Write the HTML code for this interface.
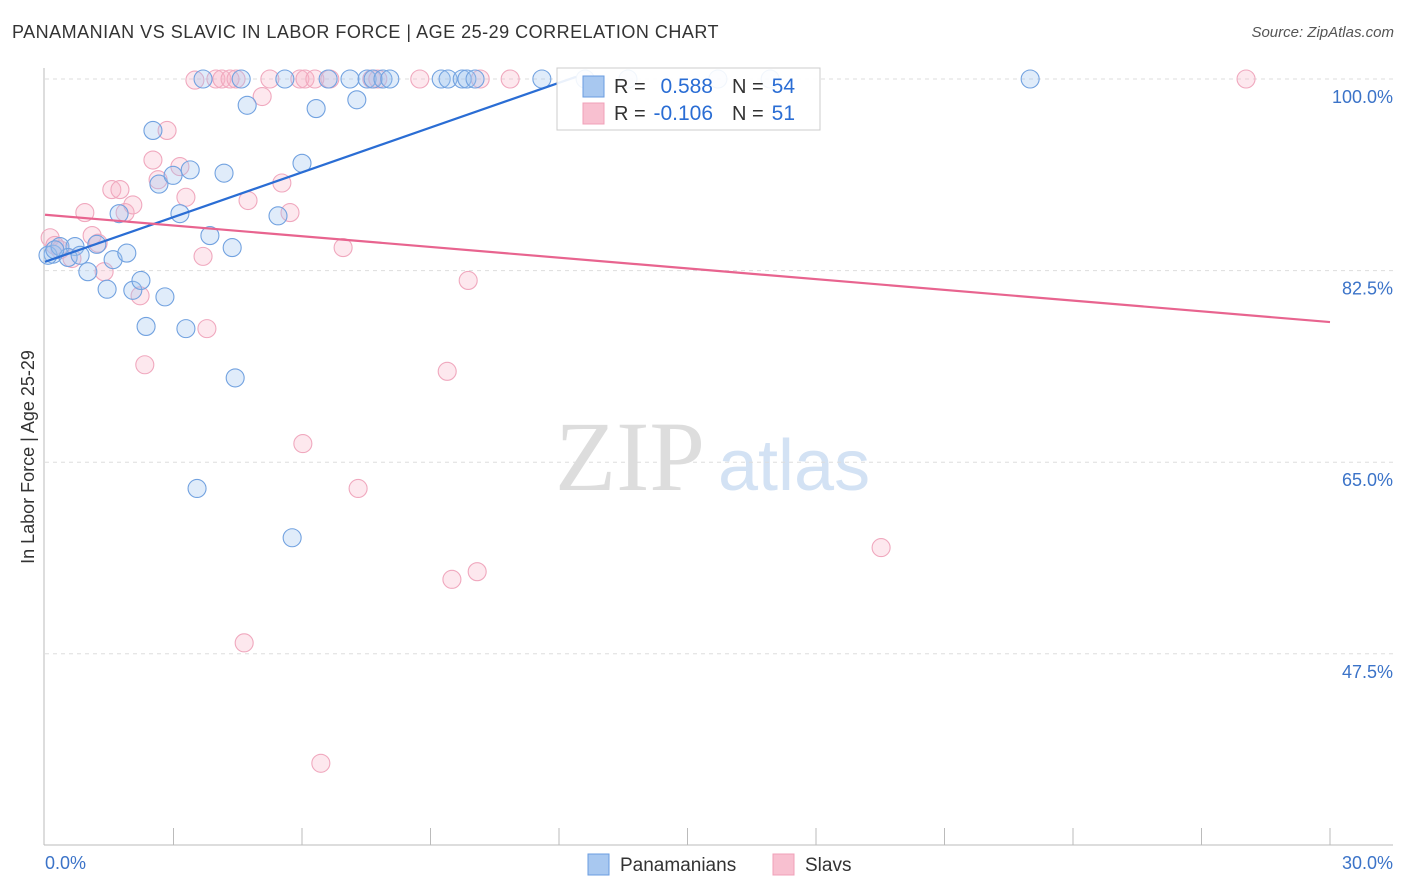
<!DOCTYPE html>
<html><head><meta charset="utf-8">
<style>
body{margin:0;background:#fff;font-family:"Liberation Sans",sans-serif;}
#wrap{position:relative;width:1406px;height:892px;overflow:hidden;}
.t{position:absolute;white-space:nowrap;}
</style></head><body>
<div id="wrap">
<div class="t" style="left:12px;top:22px;font-size:18px;letter-spacing:0.5px;color:#333;">PANAMANIAN VS SLAVIC IN LABOR FORCE | AGE 25-29 CORRELATION CHART</div>
<div class="t" style="right:12px;top:24px;font-size:15px;color:#555;font-style:italic;">Source: ZipAtlas.com</div>
<svg id="svg" width="1406" height="892" style="position:absolute;left:0;top:0"></svg>
</div>
<script>
const blueX=[0.19,0.07,0.35,0.70,0.54,0.82,1.0,1.21,1.45,1.59,1.73,1.91,2.05,2.24,2.36,2.52,2.66,2.80,2.99,3.15,3.29,3.39,3.55,3.69,3.85,4.18,4.37,4.44,4.58,4.72,5.44,5.60,5.77,6.0,6.33,6.61,7.12,7.28,7.52,7.66,7.89,8.05,9.25,9.41,9.74,9.85,10.04,11.6,12.61,13.61,15.71,16.93,23.0,0.23];
const blueY=[84.0,83.9,84.7,84.7,83.7,83.9,82.4,84.9,80.8,83.5,87.7,84.1,80.7,81.6,77.4,95.3,90.4,80.1,91.2,87.7,77.2,91.7,62.6,100,85.7,91.4,84.6,72.7,100,97.6,87.5,100,58.1,92.3,97.3,100,100,98.1,100,100,100,100,100,100,100,100,100,100,100,100,100,100,100,84.4];
const pinkX=[0.12,0.23,0.35,0.63,0.93,1.10,1.24,1.38,1.56,1.75,1.87,2.05,2.22,2.33,2.52,2.64,2.85,3.15,3.29,3.50,3.69,3.78,3.99,4.13,4.32,4.46,4.74,5.07,5.25,5.53,5.72,5.95,6.02,6.07,6.30,6.44,6.65,6.96,7.31,7.63,7.77,8.75,9.39,9.50,9.88,10.09,10.16,10.86,4.65,19.52,28.04];
const pinkY=[85.5,84.8,84.4,83.6,87.8,85.7,85.0,82.4,89.9,89.9,87.8,88.5,80.2,73.9,92.6,90.8,95.3,92.0,89.2,99.9,83.8,77.2,100,100,100,100,88.9,98.4,100,90.5,87.8,100,66.7,100,100,37.5,100,84.6,62.6,100,100,100,73.3,54.3,81.6,55.0,100,100,48.5,57.2,100];
const blueTrend=[[0,83.3],[12.4,100.2]];
const pinkTrend=[[0,87.6],[30,77.8]];
const yTicks=[100,82.5,65,47.5];
const yTickLabels=["100.0%","82.5%","65.0%","47.5%"];
const xLabels=["0.0%","30.0%"];

const NS="http://www.w3.org/2000/svg";
const svg=document.getElementById('svg');
const sx=v=>45+v/30*1285;
const sy=v=>79+(100-v)/17.5*191.6;
function mk(tag,attrs){const e=document.createElementNS(NS,tag);for(const k in attrs)e.setAttribute(k,attrs[k]);svg.appendChild(e);return e;}

let wm=mk('text',{x:555,y:490,'font-size':100,'font-family':'Liberation Serif,serif',fill:'#ddd'});wm.textContent='ZIP';


let wm2=mk('text',{x:718,y:490,'font-size':72,'font-family':'Liberation Sans,sans-serif',fill:'#d3e2f4'});wm2.textContent='atlas';



yTicks.forEach((t,i)=>{
 const g=mk('line',{x1:45,x2:1393,y1:sy(t),y2:sy(t),stroke:'#ddd','stroke-dasharray':'4,4'});
 
 
 const l=mk('text',{x:1393,y:sy(t)+24,'text-anchor':'end','font-size':18,fill:'#3b73c8'});l.textContent=yTickLabels[i];
 
 
});
let ax=mk('line',{x1:44,x2:44,y1:68,y2:845,stroke:'#bbb'});


let bx=mk('line',{x1:44,x2:1393,y1:845,y2:845,stroke:'#bbb'});


for(let i=1;i<=10;i++){const tk=mk('line',{x1:sx(i*3),x2:sx(i*3),y1:828,y2:845,stroke:'#bbb'});
 
 }
let xl0=mk('text',{x:45,y:869,'font-size':18,fill:'#3b73c8'});xl0.textContent=xLabels[0];


let xl1=mk('text',{x:1393,y:869,'font-size':18,fill:'#3b73c8','text-anchor':'end'});xl1.textContent=xLabels[1];


let yt=mk('text',{x:34,y:457,'font-size':18,fill:'#333','text-anchor':'middle',transform:'rotate(-90 34 457)'});yt.textContent='In Labor Force | Age 25-29';



pinkX.forEach((x,i)=>{const c=mk('circle',{cx:sx(x),cy:sy(pinkY[i]),r:9,fill:'rgba(248,180,200,0.3)',stroke:'#f0a8be','stroke-width':1.1});
 
 });
blueX.forEach((x,i)=>{const c=mk('circle',{cx:sx(x),cy:sy(blueY[i]),r:9,fill:'rgba(160,195,240,0.32)',stroke:'#72a2e0','stroke-width':1.1});
 
 });
let bt=mk('line',{x1:sx(blueTrend[0][0]),y1:sy(blueTrend[0][1]),x2:sx(blueTrend[1][0]),y2:sy(blueTrend[1][1]),stroke:'#2a6dd4','stroke-width':2.2});


let pt=mk('line',{x1:sx(pinkTrend[0][0]),y1:sy(pinkTrend[0][1]),x2:sx(pinkTrend[1][0]),y2:sy(pinkTrend[1][1]),stroke:'#e8648f','stroke-width':2.2});



let lb=mk('rect',{x:557,y:68,width:263,height:62,fill:'rgba(255,255,255,0.9)',stroke:'#ccc'});


const rows=[["#a8c8f0","#6a9ce0","0.588","54",86],["#f8c0d0","#f0a0b8","-0.106","51",113]];
rows.forEach(r=>{
 const s=mk('rect',{x:583,y:r[4]-10,width:21,height:21,fill:r[0],stroke:r[1]});
 
 
 const t=mk('text',{x:614,y:r[4]+7,'font-size':20,fill:'#333'});t.textContent='R =';
 
 
 const v=mk('text',{x:713,y:r[4]+7,'font-size':21,fill:'#2a6dd4','text-anchor':'end'});v.textContent=r[2];
 
 
 const n=mk('text',{x:732,y:r[4]+7,'font-size':20,fill:'#333'});n.textContent='N =';
 
 
 const nv=mk('text',{x:795,y:r[4]+7,'font-size':21,fill:'#2a6dd4','text-anchor':'end'});nv.textContent=r[3];
 
 
});
[["#a8c8f0","#6a9ce0","Panamanians",588],["#f8c0d0","#f0a0b8","Slavs",773]].forEach(l=>{
 const s=mk('rect',{x:l[3],y:854,width:21,height:21,fill:l[0],stroke:l[1]});
 
 
 const t=mk('text',{x:l[3]+32,y:871,'font-size':19,fill:'#333'});t.textContent=l[2];
 
 
});
</script>
</body></html>
